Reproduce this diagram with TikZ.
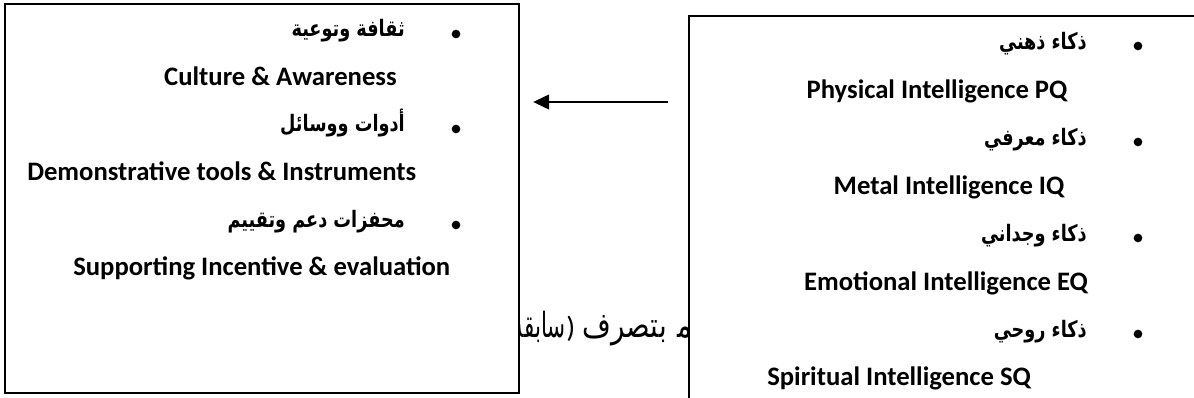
\documentclass[tikz,border=0pt]{standalone}
\usepackage{fontspec}
\setmainfont{Carlito}
\newfontfamily\arabicfont[Script=Arabic, FakeStretch=0.78]{DejaVu Sans}
\newfontfamily\arabicreg[Script=Arabic, FakeStretch=0.8]{DejaVu Sans}
\newfontfamily\arabicnarrow[Script=Arabic, FakeStretch=0.62]{DejaVu Sans}
\TeXXeTstate=1
\usetikzlibrary{arrows.meta,fit}
\begin{document}
\begin{tikzpicture}[x=0.75pt,y=-0.75pt,
  en/.style={font=\fontsize{20}{22}\selectfont\bfseries, inner sep=0pt},
  ar/.style={font=\fontsize{17}{19}\selectfont\arabicfont\bfseries, inner sep=0pt},
  bgtext/.style={font=\fontsize{26}{28}\selectfont\arabicreg, inner sep=0pt},
  bgnarrow/.style={font=\fontsize{26}{28}\selectfont\arabicnarrow, inner sep=0pt},
  bgparen/.style={font=\fontsize{22}{24}\selectfont\normalfont, inner sep=0pt},
  dot/.style={circle, fill=black, inner sep=0pt, minimum size=6.5pt},
  box/.style={draw=black, line width=1.2pt, fill=white, inner sep=0pt},
  arr/.style={line width=1.6pt, -{Triangle[length=12pt,width=11pt]}}]
\useasboundingbox (0,0) rectangle (1194,398);
\clip (0,0) rectangle (1194,398);
% background caption fragment, partly hidden by the boxes
\node[bgtext, anchor=base east] (s3) at (667,338) {بتصرف};
\node[bgtext, anchor=base west] (s4) at (677,338) {م‍};
\node[bgparen, anchor=base east] (s2) at ([xshift=-5pt]s3.base west) {)};
\node[bgnarrow, anchor=base east] (s1) at (s2.base west) {سابقة};
% boxes
\node[box, fit={(5,4) (519,393)}] (lbox) {};
\node[box, fit={(689,16) (1215,420)}] (rbox) {};
% left box content
\node[dot] (lb1) at (456,34) {};
\node[ar, anchor=mid east] (la1) at (405,33) {\beginR ثقافة وتوعية\endR};
\node[en, anchor=mid east] (le1) at (397,82) {Culture \& Awareness};
\node[dot] (lb2) at (456,129) {};
\node[ar, anchor=mid east] (la2) at (405,128) {\beginR أدوات ووسائل\endR};
\node[en, anchor=mid west] (le2) at (27,177) {Demonstrative tools \& Instruments};
\node[dot] (lb3) at (456,225) {};
\node[ar, anchor=mid east] (la3) at (405,224) {\beginR محفزات دعم وتقييم\endR};
\node[en, anchor=mid west] (le3) at (73,272) {Supporting Incentive \& evaluation};
% right box content
\node[dot] (rb1) at (1138,46) {};
\node[ar, anchor=mid east] (ra1) at (1087,46) {\beginR ذكاء ذهني\endR};
\node[en, anchor=mid] (re1) at (937,95) {Physical Intelligence PQ};
\node[dot] (rb2) at (1138,142) {};
\node[ar, anchor=mid east] (ra2) at (1087,142) {\beginR ذكاء معرفي\endR};
\node[en, anchor=mid] (re2) at (949,191) {Metal Intelligence IQ};
\node[dot] (rb3) at (1138,238) {};
\node[ar, anchor=mid east] (ra3) at (1087,238) {\beginR ذكاء وجداني\endR};
\node[en, anchor=mid] (re3) at (946,287) {Emotional Intelligence EQ};
\node[dot] (rb4) at (1138,334) {};
\node[ar, anchor=mid east] (ra4) at (1087,334) {\beginR ذكاء روحي\endR};
\node[en, anchor=mid west] (re4) at (767,382) {Spiritual Intelligence SQ};
% arrow
\coordinate (ay) at (0,102);
\draw[arr, shorten <=15pt, shorten >=10pt] (rbox.west |- ay) -- (lbox.east |- ay);
\end{tikzpicture}
\end{document}
